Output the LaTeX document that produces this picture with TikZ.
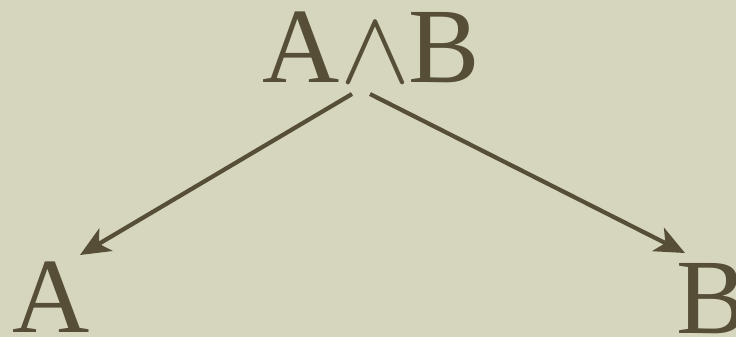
\RequirePackage{fix-cm}
\documentclass[tikz,border=0pt]{standalone}
\usepackage{fontspec}
\setmainfont{Liberation Serif}
\usetikzlibrary{arrows.meta}
\definecolor{bgc}{HTML}{D6D5BD}
\definecolor{ink}{HTML}{564E37}
\tikzset{
  lbl/.style={inner sep=0pt, text=ink, font=\fontsize{107}{107}\selectfont},
  conn/.style={draw=ink, line width=4.2pt, -{Stealth[length=30pt,width=26pt,inset=8pt]}}
}
\begin{document}
\begin{tikzpicture}[x=1pt,y=-1pt]
\fill[bgc] (0,0) rectangle (736,337);
\useasboundingbox (0,0) rectangle (736,337);
\node[lbl, anchor=base] (top) at (371,82) {A\kern1pt{\fontsize{105}{105}\selectfont$\wedge$}\kern-2pt B};
\node[lbl, anchor=base] (a) at (51.5,332) {A};
\node[lbl, anchor=base west] (b) at (676,333) {B};
\coordinate (s1) at (352,94);
\coordinate (s2) at (370,94);
\coordinate (t1) at (80,255);
\coordinate (t2) at (685,253);
\draw[conn] (s1) -- (t1);
\draw[conn] (s2) -- (t2);
\end{tikzpicture}
\end{document}
